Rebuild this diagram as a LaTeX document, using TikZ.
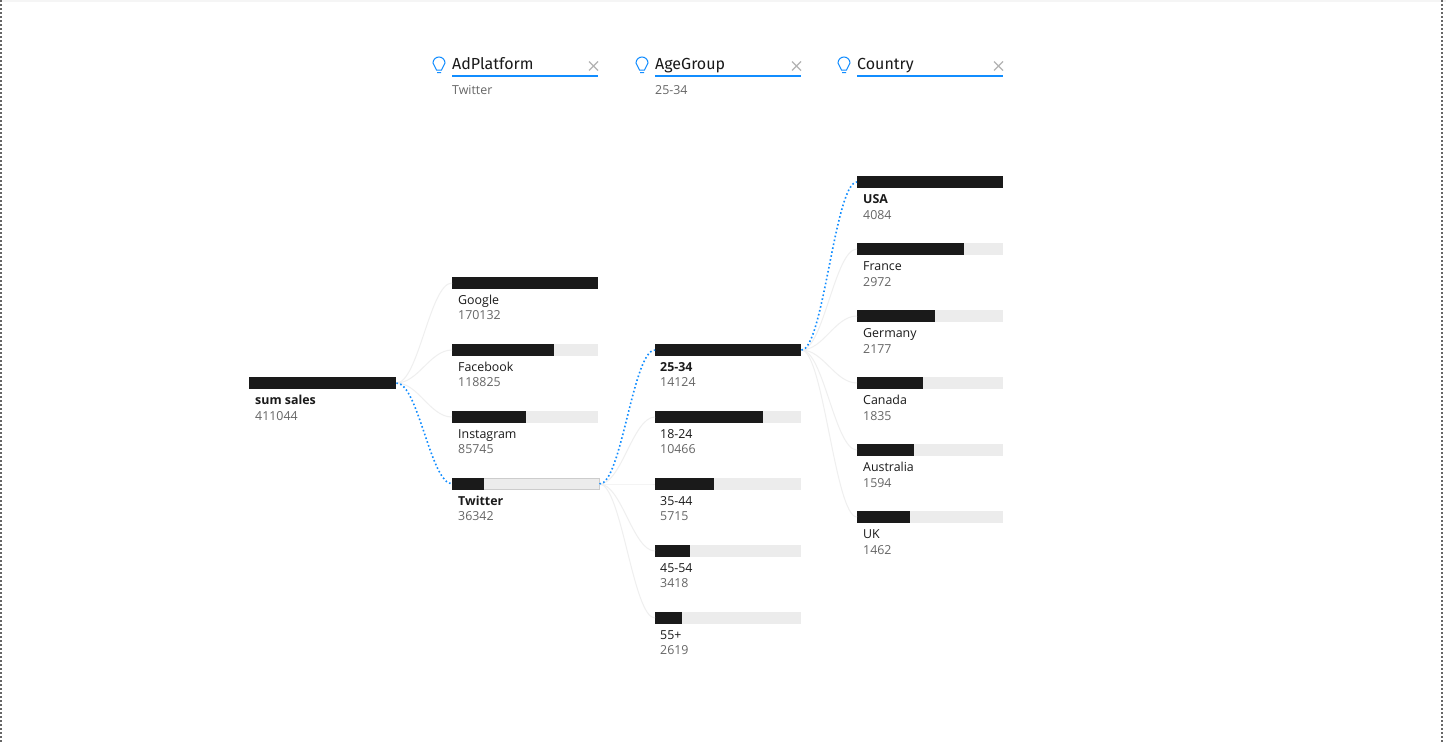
\documentclass[tikz,border=0pt]{standalone}
\usepackage{fontspec}
\setmainfont{Open Sans}
\newfontfamily\headfont{Fira Sans}

\definecolor{barblack}{HTML}{1A1A1A}
\definecolor{bartrack}{HTML}{ECECEC}
\definecolor{linkblue}{HTML}{118DFF}
\definecolor{linkgrey}{HTML}{EFEFEF}
\definecolor{valuegrey}{HTML}{666666}
\definecolor{crossgrey}{HTML}{B3B3B3}

\tikzset{
  trackbar/.style={fill=bartrack, anchor=west, inner sep=0pt, minimum width=146pt, minimum height=12pt},
  fillbar/.style={fill=barblack, anchor=west, inner sep=0pt, minimum height=12pt},
  nametext/.style={anchor=base west, inner sep=0pt, font=\fontsize{12.4}{14}\selectfont, text=barblack},
  boldtext/.style={nametext, font=\fontsize{12.4}{14}\selectfont\bfseries},
  valuetext/.style={anchor=base west, inner sep=0pt, font=\fontsize{12.4}{14}\selectfont, text=valuegrey},
  headtext/.style={anchor=base west, inner sep=0pt, font=\fontsize{16}{18}\selectfont\headfont, text=barblack},
  greylink/.style={draw=linkgrey, line width=1pt},
  bluelink/.style={draw=linkblue, line width=1.6pt, dash pattern=on 1.6pt off 2.4pt},
  headrule/.style={draw=linkblue, line width=2pt},
  bulbline/.style={draw=linkblue, line width=1pt},
  crossline/.style={draw=crossgrey, line width=1.3pt}
}

\begin{document}
\begin{tikzpicture}[x=1pt, y=-1pt]

  % Page frame
  \useasboundingbox[fill=white] (0,0) rectangle (1446,742);
  \fill[black!4] (0,0) rectangle (1446,2);
  \draw[valuegrey, line width=1.5pt, dash pattern=on 2pt off 2pt] (1,0) -- (1,742);
  \draw[valuegrey, line width=1.5pt, dash pattern=on 2pt off 2pt] (1442,0) -- (1442,742);

  % Column headers
  \node[headtext] (headplatform) at (452,69) {AdPlatform};
  \node[headtext] (headage) at (655,69) {AgeGroup};
  \node[headtext] (headcountry) at (857,69) {Country};
  \node[valuetext] (pickplatform) at (452,94) {Twitter};
  \node[valuetext] (pickage) at (655,94) {25-34};

  \draw[headrule] (452,76) -- (598,76);
  \draw[headrule] (655,76) -- (801,76);
  \draw[headrule] (857,76) -- (1003,76);

  % Close crosses
  \draw[crossline] (589,61.5) -- (598,70.5) (598,61.5) -- (589,70.5);
  \draw[crossline] (792,61.5) -- (801,70.5) (801,61.5) -- (792,70.5);
  \draw[crossline] (994,61.5) -- (1003,70.5) (1003,61.5) -- (994,70.5);

  % Light bulbs
  \draw[bulbline] (436.5,70) .. controls (436.5,67) and (433,66) .. (433,63) arc (180:360:6) .. controls (445,66) and (441.5,67) .. (441.5,70) -- cycle (437,72.5) -- (441,72.5);
  \draw[bulbline] (639.5,70) .. controls (639.5,67) and (636,66) .. (636,63) arc (180:360:6) .. controls (648,66) and (644.5,67) .. (644.5,70) -- cycle (640,72.5) -- (644,72.5);
  \draw[bulbline] (841.5,70) .. controls (841.5,67) and (838,66) .. (838,63) arc (180:360:6) .. controls (850,66) and (846.5,67) .. (846.5,70) -- cycle (842,72.5) -- (846,72.5);

  % Root bar
  \node[fillbar, minimum width=147pt] (sumsales) at (249,383) {};
  \node[boldtext] (sumsalesname) at (255,404) {sum sales};
  \node[valuetext] (sumsalesvalue) at (255,420) {411044};

  % AdPlatform bars
  \node[fillbar, minimum width=146pt] (google) at (452,283) {};
  \node[nametext] (googlename) at (458,304) {Google};
  \node[valuetext] (googlevalue) at (458,319) {170132};

  \node[trackbar] (facebook) at (452,350) {};
  \node[fillbar, minimum width=102pt] (facebookfill) at (452,350) {};
  \node[nametext] (facebookname) at (458,371) {Facebook};
  \node[valuetext] (facebookvalue) at (458,386) {118825};

  \node[trackbar] (instagram) at (452,417) {};
  \node[fillbar, minimum width=74pt] (instagramfill) at (452,417) {};
  \node[nametext] (instagramname) at (458,438) {Instagram};
  \node[valuetext] (instagramvalue) at (458,453) {85745};

  \node[trackbar, draw=black!20, line width=1pt, minimum width=146pt, minimum height=11pt] (twitter) at (452.5,484) {};
  \node[fillbar, minimum width=32pt] (twitterfill) at (452,484) {};
  \node[boldtext] (twittername) at (458,505) {Twitter};
  \node[valuetext] (twittervalue) at (458,520) {36342};

  % AgeGroup bars
  \node[fillbar, minimum width=146pt] (agea) at (655,350) {};
  \node[boldtext] (ageaname) at (660,371) {25-34};
  \node[valuetext] (ageavalue) at (660,386) {14124};

  \node[trackbar] (ageb) at (655,417) {};
  \node[fillbar, minimum width=108pt] (agebfill) at (655,417) {};
  \node[nametext] (agebname) at (660,438) {18-24};
  \node[valuetext] (agebvalue) at (660,453) {10466};

  \node[trackbar] (agec) at (655,484) {};
  \node[fillbar, minimum width=59pt] (agecfill) at (655,484) {};
  \node[nametext] (agecname) at (660,505) {35-44};
  \node[valuetext] (agecvalue) at (660,520) {5715};

  \node[trackbar] (aged) at (655,551) {};
  \node[fillbar, minimum width=35pt] (agedfill) at (655,551) {};
  \node[nametext] (agedname) at (660,572) {45-54};
  \node[valuetext] (agedvalue) at (660,587) {3418};

  \node[trackbar] (agee) at (655,618) {};
  \node[fillbar, minimum width=27pt] (ageefill) at (655,618) {};
  \node[nametext] (ageename) at (660,639) {55+};
  \node[valuetext] (ageevalue) at (660,654) {2619};

  % Country bars
  \node[fillbar, minimum width=146pt] (usa) at (857,182) {};
  \node[boldtext] (usaname) at (863,203) {USA};
  \node[valuetext] (usavalue) at (863,219) {4084};

  \node[trackbar] (france) at (857,249) {};
  \node[fillbar, minimum width=107pt] (francefill) at (857,249) {};
  \node[nametext] (francename) at (863,270) {France};
  \node[valuetext] (francevalue) at (863,286) {2972};

  \node[trackbar] (germany) at (857,316) {};
  \node[fillbar, minimum width=78pt] (germanyfill) at (857,316) {};
  \node[nametext] (germanyname) at (863,337) {Germany};
  \node[valuetext] (germanyvalue) at (863,353) {2177};

  \node[trackbar] (canada) at (857,383) {};
  \node[fillbar, minimum width=66pt] (canadafill) at (857,383) {};
  \node[nametext] (canadaname) at (863,404) {Canada};
  \node[valuetext] (canadavalue) at (863,420) {1835};

  \node[trackbar] (australia) at (857,450) {};
  \node[fillbar, minimum width=57pt] (australiafill) at (857,450) {};
  \node[nametext] (australianame) at (863,471) {Australia};
  \node[valuetext] (australiavalue) at (863,487) {1594};

  \node[trackbar] (uk) at (857,517) {};
  \node[fillbar, minimum width=53pt] (ukfill) at (857,517) {};
  \node[nametext] (ukname) at (863,538) {UK};
  \node[valuetext] (ukvalue) at (863,554) {1462};

  % Grey links
  \draw[greylink] (sumsales.east) .. controls +(22,0) and +(-22,0) .. (google.west);
  \draw[greylink] (sumsales.east) .. controls +(22,0) and +(-22,0) .. (facebook.west);
  \draw[greylink] (sumsales.east) .. controls +(22,0) and +(-22,0) .. (instagram.west);

  \draw[greylink] (twitter.east) .. controls +(22,0) and +(-22,0) .. (ageb.west);
  \draw[greylink] (twitter.east) .. controls +(22,0) and +(-22,0) .. (agec.west);
  \draw[greylink] (twitter.east) .. controls +(22,0) and +(-22,0) .. (aged.west);
  \draw[greylink] (twitter.east) .. controls +(22,0) and +(-22,0) .. (agee.west);

  \draw[greylink] (agea.east) .. controls +(22,0) and +(-22,0) .. (france.west);
  \draw[greylink] (agea.east) .. controls +(22,0) and +(-22,0) .. (germany.west);
  \draw[greylink] (agea.east) .. controls +(22,0) and +(-22,0) .. (canada.west);
  \draw[greylink] (agea.east) .. controls +(22,0) and +(-22,0) .. (australia.west);
  \draw[greylink] (agea.east) .. controls +(22,0) and +(-22,0) .. (uk.west);

  % Blue links along the selected path
  \draw[bluelink] (sumsales.east) .. controls +(22,0) and +(-22,0) .. (twitter.west);
  \draw[bluelink] (twitter.east) .. controls +(22,0) and +(-22,0) .. (agea.west);
  \draw[bluelink] (agea.east) .. controls +(22,0) and +(-22,0) .. (usa.west);

\end{tikzpicture}
\end{document}
